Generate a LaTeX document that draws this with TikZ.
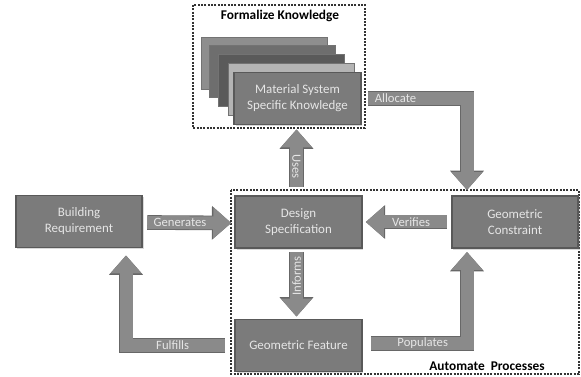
\documentclass[tikz,border=0pt]{standalone}
\usepackage{fontspec}
\setmainfont{Carlito}
\usetikzlibrary{shadows}
\usetikzlibrary{positioning}
\usetikzlibrary{arrows.meta,calc}
\definecolor{boxfill}{HTML}{7B7B7B}
\definecolor{boxedge}{HTML}{595959}
\definecolor{arrowfill}{HTML}{8A8A8A}
\definecolor{arrowedge}{HTML}{676767}
\definecolor{boxtext}{HTML}{E6E6E6}
\definecolor{cardA}{HTML}{8E8E8E}
\definecolor{cardB}{HTML}{6E6E6E}
\definecolor{cardC}{HTML}{5A5A5A}
\definecolor{cardD}{HTML}{B4B4B4}
\tikzstyle{block}=[rectangle,fill=boxfill,draw=boxedge,line width=1.4pt,minimum width=95pt,minimum height=39pt,inner sep=1pt,text=boxtext,align=center,font=\fontsize{9.7}{12}\selectfont,drop shadow={shadow xshift=1.2pt,shadow yshift=-1.2pt,opacity=0.3}]
\tikzstyle{card}=[rectangle,draw=black!55,line width=0.6pt,minimum width=95pt,minimum height=39pt]
\tikzstyle{fat}=[draw=arrowfill,line width=9.75pt,-{Triangle[width=22.5pt,length=13.5pt]},preaction={draw=arrowedge,line width=11pt,-{Triangle[width=24.5pt,length=14.5pt]}}]
\tikzstyle{flow}=[text=boxtext,font=\fontsize{9.5}{11}\selectfont,inner sep=0pt]
\tikzstyle{region}=[draw=black!80,line width=1pt,dash pattern=on 1.5pt off 1pt]
\tikzstyle{title}=[font=\fontsize{10}{12}\selectfont\bfseries,inner sep=0pt]

\begin{document}
\begin{tikzpicture}[x=0.75pt,y=-0.75pt]
\useasboundingbox (0,0) rectangle (581,377);

    % dashed regions first
    \draw[region] (193,5) rectangle (365,128);
    \node[title] (fktitle) at (280,16) {Formalize Knowledge};
    \draw[region] (231,190) rectangle (579,374);
    \node[title] (aptitle) at (487,366) {Automate\ \ Processes};

    % stack of knowledge cards behind the front one
    \coordinate (front) at (297.5,98.5);
    \foreach \dx/\dy/\col in {-33/-35/cardA, -25/-27/cardB, -16/-18/cardC, -6/-9/cardD}
        \node[card,fill=\col] at ($(front)+(\dx,\dy)$) {};

    % the five blocks
    \foreach \pos/\name/\txt in {{(297.5,98.5)/msk/{Material System\\Specific Knowledge}}, {(79,221.5)/br/{Building\\Requirement}}, {(298.5,222)/ds/{Design\\Specification}}, {(515,222)/gc/{Geometric\\Constraint}}, {(298.5,345.5)/gf/{Geometric Feature}}}
        \node[block] (\name) at \pos {\txt};

    % block arrows between them
    \draw[fat] ($(br.east)+(4,1)$) -- node[flow,pos=0.39] {Generates} ($(ds.west)+(-3,1)$);
    \draw[fat] ($(gc.west)+(-4,0)$) -- node[flow,pos=0.44] {Verifies} ($(ds.east)+(3,0)$);
    \draw[fat] ($(ds.north)+(-2,-8)$) -- node[flow,pos=0.36,rotate=-90] {Uses} ($(ds.north |- msk.south)+(-2,4)$);
    \draw[fat] ($(ds.south)+(-2,3)$) -- node[flow,pos=0.37,rotate=90] {Informs} ($(gf.north)+(-2,-2)$);
    \draw[fat] ($(msk.east)+(6,0)$) -| node[flow,pos=0.14] {Allocate} ($(gc.north)+(-48,-5)$);
    \draw[fat] ($(gf.east)+(8,-2)$) -| node[flow,pos=0.27] {Populates} ($(gc.south)+(-48,3)$);
    \draw[fat] ($(gf.west)+(-9,0)$) -| node[flow,pos=0.265] {Fulfills} ($(br.south)+(47,7)$);

\end{tikzpicture}
\end{document}
